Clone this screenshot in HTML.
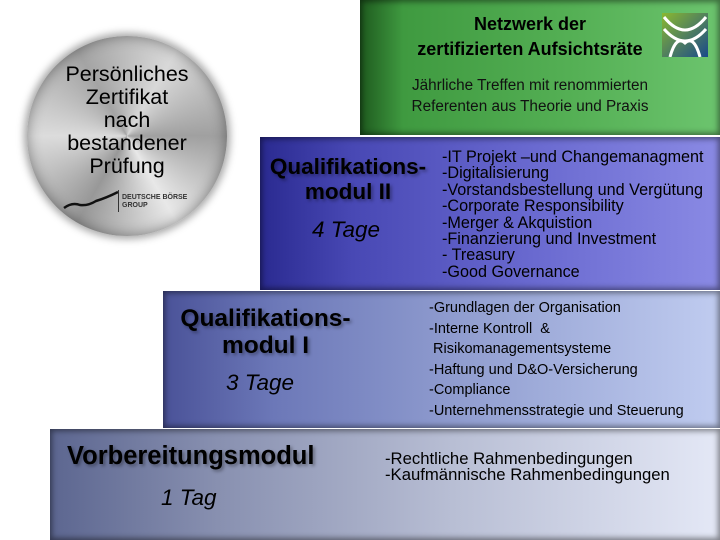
<!DOCTYPE html>
<html><head><meta charset="utf-8"><style>
body{margin:0;width:720px;height:540px;position:relative;overflow:hidden;background:#fff;font-family:"Liberation Sans",sans-serif;}
.b{position:absolute;box-shadow:inset 0 0 6px 2px rgba(0,0,0,.45);}
.t{position:absolute;white-space:nowrap;color:#000;}
.h{font-weight:bold;font-size:22.5px;text-align:center;line-height:25px;text-shadow:2px 2px 3px rgba(0,0,0,.35);}
.i{font-style:italic;font-size:22.5px;}
.l{font-size:16.2px;line-height:16.4px;}
.c{font-size:14.5px;line-height:20.5px;}
</style></head><body>
<div class="b" style="left:360px;top:0;width:360px;height:135px;background:linear-gradient(90deg,#1e5a1e 0%,#3f9a40 12%,#55b055 60%,#6cc46e 100%);"></div>
<div class="t" style="left:380px;top:12px;width:300px;text-align:center;font-weight:bold;font-size:18px;line-height:25px;">Netzwerk der<br>zertifizierten Aufsichtsräte</div>
<div class="t" style="left:380px;top:75px;width:300px;text-align:center;font-size:15.3px;line-height:21px;color:#111;">Jährliche Treffen mit renommierten<br>Referenten aus Theorie und Praxis</div>
<svg style="position:absolute;left:662px;top:13px" width="46" height="44"><defs><linearGradient id="g" x1="0" y1="0" x2="1" y2="1"><stop offset="0" stop-color="#8ab830"/><stop offset="1" stop-color="#1a4a8a"/></linearGradient></defs><rect width="46" height="44" fill="url(#g)"/><path d="M2 4 Q23 30 44 4 M2 16 Q23 40 44 16 M8 44 Q14 22 23 30 Q32 22 38 44" stroke="#fff" stroke-width="3" fill="none"/></svg>

<div class="b" style="left:260px;top:137px;width:460px;height:153px;background:linear-gradient(90deg,#2a2a90 0%,#4848b4 20%,#6a6ad0 60%,#8a8ae4 100%);"></div>
<div class="t h" style="left:262px;top:154px;width:172px;">Qualifikations-<br>modul II</div>
<div class="t i" style="left:312px;top:217px;">4 Tage</div>
<div class="t l" style="left:442px;top:149px;">-IT Projekt –und Changemanagment<br>-Digitalisierung<br>-Vorstandsbestellung und Vergütung<br>-Corporate Responsibility<br>-Merger &amp; Akquistion<br>-Finanzierung und Investment<br>- Treasury<br>-Good Governance</div>

<div class="b" style="left:163px;top:291px;width:557px;height:137px;background:linear-gradient(90deg,#4a5298 0%,#6c78b8 20%,#97a4d4 60%,#c0ccf0 100%);"></div>
<div class="t h" style="left:168px;top:305px;width:195px;font-size:24.5px;line-height:27px;">Qualifikations-<br>modul I</div>
<div class="t i" style="left:226px;top:370px;">3 Tage</div>
<div class="t c" style="left:429px;top:298px;">-Grundlagen der Organisation<br>-Interne Kontroll &nbsp;&amp;<br>&nbsp;Risikomanagementsysteme<br>-Haftung und D&amp;O-Versicherung<br>-Compliance<br>-Unternehmensstrategie und Steuerung</div>

<div class="b" style="left:50px;top:429px;width:670px;height:111px;background:linear-gradient(90deg,#5c6690 0%,#8890b0 25%,#b8bed4 60%,#e4e8f6 100%);"></div>
<div class="t h" style="left:67px;top:444px;font-size:25.5px;">Vorbereitungsmodul</div>
<div class="t i" style="left:161px;top:485px;">1 Tag</div>
<div class="t l" style="left:385px;top:451px;font-size:16.7px;">-Rechtliche Rahmenbedingungen<br>-Kaufmännische Rahmenbedingungen</div>

<div style="position:absolute;left:27px;top:36px;width:200px;height:200px;border-radius:50%;background:conic-gradient(from 30deg,#d8d8d8,#a0a0a0,#e8e8e8,#989898,#dcdcdc,#a4a4a4,#d8d8d8);box-shadow:0 0 8px 3px rgba(0,0,0,.35),inset 0 0 14px rgba(0,0,0,.4);"></div>
<div class="t" style="left:27px;top:63px;width:200px;text-align:center;font-size:21.5px;line-height:23px;">Persönliches<br>Zertifikat<br>nach<br>bestandener<br>Prüfung</div>
<svg style="position:absolute;left:62px;top:190px" width="60" height="22"><path d="M2 18 Q10 12 18 15 Q26 16 34 11 Q44 8 56 2" stroke="#111" stroke-width="2.5" fill="none"/></svg>
<div style="position:absolute;left:118px;top:190px;width:1px;height:22px;background:#333"></div>
<div class="t" style="left:122px;top:194px;font-size:7px;font-weight:bold;line-height:8px;color:#333;">DEUTSCHE BÖRSE<br>GROUP</div>
</body></html>
